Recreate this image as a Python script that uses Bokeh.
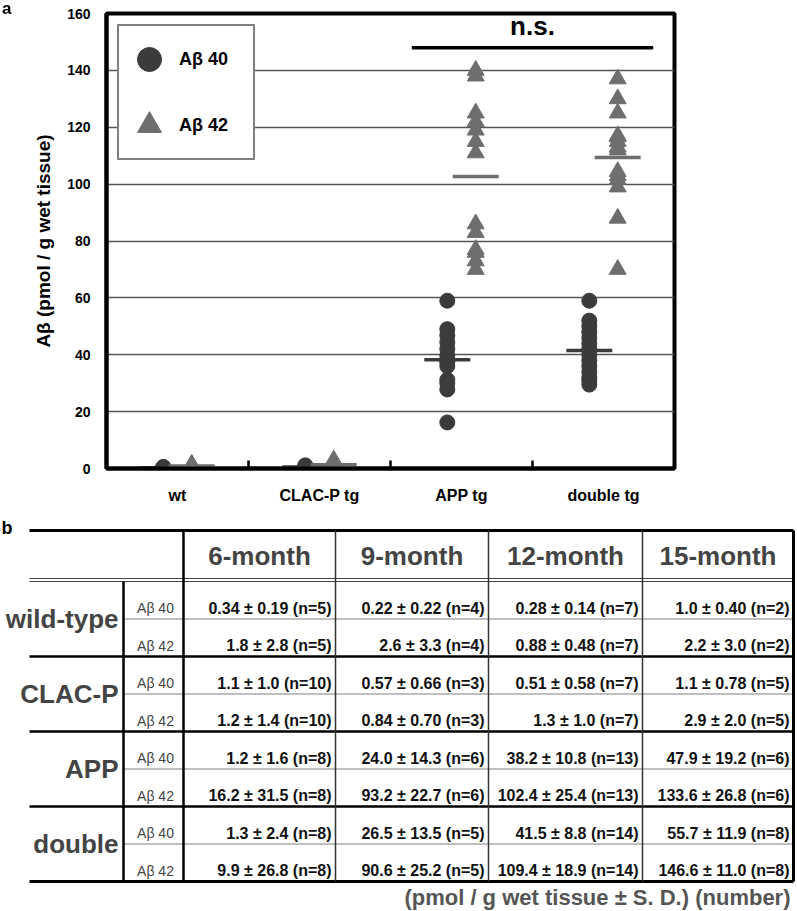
import numpy as np
from bokeh.plotting import figure
from bokeh.models import Range1d, FixedTicker, Legend, LegendItem, Div
from bokeh.layouts import column
from bokeh.embed import file_html
from bokeh.resources import INLINE
from bokeh.core.properties import value

# ---------------- data : panel a (12-month animals) ----------------
categories = ["wt", "CLAC-P tg", "APP tg", "double tg"]
ab40_wt = [0.1, 0.15, 0.2, 0.25, 0.3, 0.4, 0.55]
ab42_wt = [0.4, 0.5, 0.7, 0.9, 1.0, 1.2, 1.5]
ab40_clacp = [0.1, 0.2, 0.3, 0.4, 0.6, 0.9, 1.1]
ab42_clacp = [0.3, 0.5, 0.8, 1.0, 1.4, 2.2, 3.0]
ab40_app = [59, 49, 46.8, 44.4, 42.1, 39.7, 38, 37.4, 36, 31.2, 30, 27.8, 16.2]
ab42_app = [140, 138, 125, 122, 119, 115, 111, 86, 83, 77, 76, 73, 70]
ab40_double = [59, 52, 50, 48, 46, 44, 42, 40, 38, 36, 34, 32, 31, 29.5]
ab42_double = [137, 130, 125, 117, 116.6, 115, 113, 112, 104.4, 103, 101.6, 99, 88, 70]
y_ticks = [0, 20, 40, 60, 80, 100, 120, 140, 160]
series_labels = ["A\u03b2 40", "A\u03b2 42"]
ns_label = "n.s."

# ---------------- data : panel b (table) ----------------
months = ["6-month", "9-month", "12-month", "15-month"]
groups = ["wild-type", "CLAC-P", "APP", "double"]
species = ["A\u03b2 40", "A\u03b2 42"]
cells_6m = ["0.34 \u00b1 0.19 (n=5)", "1.8 \u00b1 2.8 (n=5)", "1.1 \u00b1 1.0 (n=10)", "1.2 \u00b1 1.4 (n=10)",
            "1.2 \u00b1 1.6 (n=8)", "16.2 \u00b1 31.5 (n=8)", "1.3 \u00b1 2.4 (n=8)", "9.9 \u00b1 26.8 (n=8)"]
cells_9m = ["0.22 \u00b1 0.22 (n=4)", "2.6 \u00b1 3.3 (n=4)", "0.57 \u00b1 0.66 (n=3)", "0.84 \u00b1 0.70 (n=3)",
            "24.0 \u00b1 14.3 (n=6)", "93.2 \u00b1 22.7 (n=6)", "26.5 \u00b1 13.5 (n=5)", "90.6 \u00b1 25.2 (n=5)"]
cells_12m = ["0.28 \u00b1 0.14 (n=7)", "0.88 \u00b1 0.48 (n=7)", "0.51 \u00b1 0.58 (n=7)", "1.3 \u00b1 1.0 (n=7)",
             "38.2 \u00b1 10.8 (n=13)", "102.4 \u00b1 25.4 (n=13)", "41.5 \u00b1 8.8 (n=14)", "109.4 \u00b1 18.9 (n=14)"]
cells_15m = ["1.0 \u00b1 0.40 (n=2)", "2.2 \u00b1 3.0 (n=2)", "1.1 \u00b1 0.78 (n=5)", "2.9 \u00b1 2.0 (n=5)",
             "47.9 \u00b1 19.2 (n=6)", "133.6 \u00b1 26.8 (n=6)", "55.7 \u00b1 11.9 (n=8)", "146.6 \u00b1 11.0 (n=8)"]
footer = "(pmol / g wet tissue \u00b1 S. D.) (number)"

FONT = value("Liberation Sans")
C40 = "#3b3b3b"
C42 = "#6e6e6e"

# ---------------- panel a ----------------
p = figure(frame_width=568, frame_height=455, min_border_left=106, min_border_right=123,
           min_border_top=13, min_border_bottom=48,
           x_range=Range1d(0, 4), y_range=Range1d(0, 160),
           output_backend="svg", toolbar_location=None)
p.frame_align = False
p.background_fill_color = "white"
p.border_fill_color = "white"
p.outline_line_color = "black"
p.outline_line_width = 4

ab40_groups = [ab40_wt, ab40_clacp, ab40_app, ab40_double]
ab42_groups = [ab42_wt, ab42_clacp, ab42_app, ab42_double]
off = 0.1
half = 0.162
x40, y40, x42, y42 = [], [], [], []
for i, (a, b) in enumerate(zip(ab40_groups, ab42_groups)):
    x40 += [i + 0.5 - off] * len(a); y40 += list(a)
    x42 += [i + 0.5 + off] * len(b); y42 += list(b)

r40 = p.scatter(x40, y40, marker="circle", size=15, fill_color=C40, line_color=C40)
r42 = p.scatter(x42, y42, marker="triangle", size=17, fill_color=C42, line_color=C42)

mx40 = [i + 0.5 - off for i in range(len(categories))]
mx42 = [i + 0.5 + off for i in range(len(categories))]
m40 = [float(np.mean(a)) for a in ab40_groups]
m42 = [float(np.mean(b)) for b in ab42_groups]
p.segment([x - half for x in mx40], m40, [x + half for x in mx40], m40, line_color=C40, line_width=3.5)
p.segment([x - half for x in mx42], m42, [x + half for x in mx42], m42, line_color=C42, line_width=3.5)

# n.s. bracket between APP tg and double tg
ia, ib = categories.index("APP tg"), categories.index("double tg")
p.segment([ia + 0.15], [148], [ib + 0.85], [148], line_color="black", line_width=3.5)
p.text([(ia + ib) / 2 + 0.5], [155.5], text=[ns_label], text_align="center", text_baseline="middle",
       text_font=FONT, text_font_style="bold", text_font_size="26px", text_color="black")

# axes
p.xgrid.visible = False
p.ygrid.ticker = FixedTicker(ticks=y_ticks)
p.ygrid.grid_line_color = "#555555"
p.ygrid.grid_line_width = 1.5

p.yaxis.ticker = FixedTicker(ticks=y_ticks)
p.yaxis.axis_line_width = 4
p.yaxis.major_tick_line_color = None
p.yaxis.minor_tick_line_color = None
p.yaxis.major_label_standoff = 10
p.yaxis.major_label_text_font = "Liberation Sans"
p.yaxis.major_label_text_font_style = "bold"
p.yaxis.major_label_text_font_size = "14px"
p.yaxis.major_label_text_color = "black"
p.yaxis.axis_label = "A\u03b2 (pmol / g wet tissue)"
p.yaxis.axis_label_text_font = "Liberation Sans"
p.yaxis.axis_label_text_font_style = "bold"
p.yaxis.axis_label_text_font_size = "19px"
p.yaxis.axis_label_text_color = "black"
p.yaxis.axis_label_standoff = 10

centers = [i + 0.5 for i in range(len(categories))]
p.xaxis.ticker = FixedTicker(ticks=centers, minor_ticks=[i for i in range(1, len(categories))])
p.xaxis.major_label_overrides = {c: lab for c, lab in zip(centers, categories)}
p.xaxis.axis_line_width = 4
p.xaxis.major_tick_line_color = None
p.xaxis.minor_tick_in = 8
p.xaxis.minor_tick_out = 0
p.xaxis.minor_tick_line_width = 2.5
p.xaxis.minor_tick_line_color = "black"
p.xaxis.major_label_standoff = 12
p.xaxis.major_label_text_font = "Liberation Sans"
p.xaxis.major_label_text_font_style = "bold"
p.xaxis.major_label_text_font_size = "16px"
p.xaxis.major_label_text_color = "black"

legend = Legend(items=[LegendItem(label=series_labels[0], renderers=[r40]),
                       LegendItem(label=series_labels[1], renderers=[r42])],
                location="top_left", margin=11, padding=0, spacing=0,
                glyph_width=60, glyph_height=66, label_standoff=0, label_width=74,
                border_line_color="black", border_line_width=2.5,
                background_fill_color="white", background_fill_alpha=1.0,
                label_text_font="Liberation Sans", label_text_font_style="bold",
                label_text_font_size="18px", label_text_color="black")
p.add_layout(legend)

# ---------------- panel b : table ----------------
TW, TH = 797, 395
t = figure(frame_width=TW, frame_height=TH, x_range=Range1d(0, TW), y_range=Range1d(TH, 0),
           x_axis_type=None, y_axis_type=None, min_border=0,
           output_backend="svg", toolbar_location=None)
t.frame_align = False
t.grid.visible = False
t.outline_line_color = None
t.background_fill_color = "white"
t.border_fill_color = "white"

left, grp_x, sub_x = 29, 123, 183
col_edges = [183, 335, 488, 642, 793]
top_y, hdr1, hdr2 = 14, 62, 65
row_edges = list(np.linspace(65, 365, 2 * len(groups) + 1))

# horizontal lines
t.segment([left], [top_y], [col_edges[-1]], [top_y], line_color="black", line_width=3)
t.segment([left, left], [hdr1, hdr2], [col_edges[-1]] * 2, [hdr1, hdr2], line_color="#444444", line_width=1.2)
gy = [row_edges[k] for k in range(2, len(row_edges) - 1, 2)]
t.segment([left] * len(gy), gy, [col_edges[-1]] * len(gy), gy, line_color="black", line_width=2.5)
t.segment([left], [row_edges[-1]], [col_edges[-1]], [row_edges[-1]], line_color="black", line_width=3)
sy = [row_edges[k] for k in range(1, len(row_edges), 2)]
t.segment([grp_x] * len(sy), sy, [col_edges[-1]] * len(sy), sy, line_color="#808080", line_width=1.2)
# vertical lines
t.segment([grp_x], [hdr2], [grp_x], [row_edges[-1]], line_color="black", line_width=2.5)
t.segment([sub_x], [top_y], [sub_x], [row_edges[-1]], line_color="black", line_width=2.5)
mid = col_edges[1:-1]
t.segment(mid, [top_y] * len(mid), mid, [row_edges[-1]] * len(mid), line_color="#333333", line_width=1.5)
t.segment([col_edges[-1]], [top_y], [col_edges[-1]], [row_edges[-1]], line_color="black", line_width=3)

# headers
hx = [(col_edges[j] + col_edges[j + 1]) / 2 for j in range(len(months))]
t.text(hx, [(top_y + hdr1) / 2 + 1] * len(months), text=months, text_align="center", text_baseline="middle",
       text_font=FONT, text_font_style="bold", text_font_size="26px", text_color="#444444")
# group labels
gcy = [(row_edges[2 * g] + row_edges[2 * g + 2]) / 2 for g in range(len(groups))]
t.text([grp_x - 5] * len(groups), gcy, text=groups, text_align="right", text_baseline="middle",
       text_font=FONT, text_font_style="bold", text_font_size="26px", text_color="#444444")
# species labels
nrows = 2 * len(groups)
rc = [row_edges[k + 1] - 11 for k in range(nrows)]
t.text([(grp_x + sub_x) / 2 + 2] * nrows, rc, text=species * len(groups), text_align="center",
       text_baseline="middle", text_font=FONT, text_font_size="14px", text_color="#444444")
# values
for j, cells in enumerate([cells_6m, cells_9m, cells_12m, cells_15m]):
    t.text([col_edges[j + 1] - 4] * nrows, rc, text=cells, text_align="right", text_baseline="middle",
           text_font=FONT, text_font_style="bold", text_font_size="16px", text_color="#111111")
# footer + panel letter
t.text([col_edges[-1] - 3], [row_edges[-1] + 16], text=[footer], text_align="right", text_baseline="middle",
       text_font=FONT, text_font_style="bold", text_font_size="22px", text_color="#555555")
t.text([1], [11], text=["b"], text_align="left", text_baseline="middle",
       text_font=FONT, text_font_style="bold", text_font_size="18px", text_color="black")

# panel letter "a" (sits above the chart frame, outside any plotting area)
a_div = Div(text='<span style="position:fixed;left:2px;top:0px;font:bold 17px \'Liberation Sans\';'
                 'line-height:1;color:black">a</span>', width=0, height=0, margin=0)

layout = column(p, t, spacing=0)
open("out.html", "w").write(file_html([layout, a_div], INLINE))
